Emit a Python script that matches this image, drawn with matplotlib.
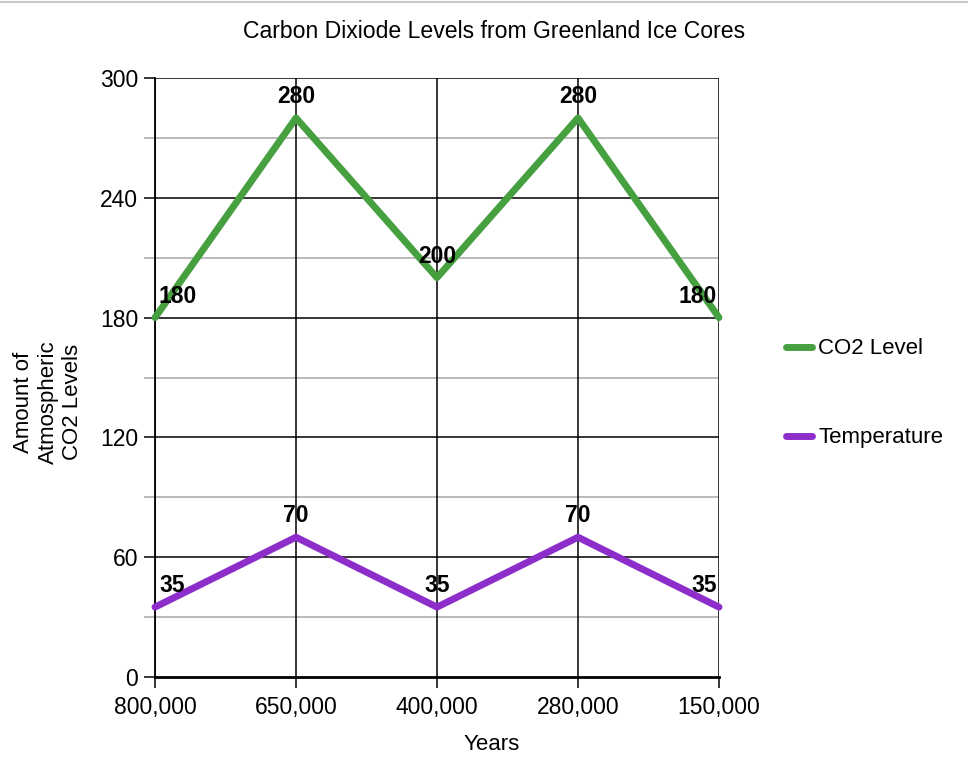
import matplotlib
matplotlib.use("Agg")
import matplotlib.pyplot as plt
from matplotlib.lines import Line2D

plt.rcParams['font.family'] = ['Liberation Sans', 'DejaVu Sans']

years = ['800,000', '650,000', '400,000', '280,000', '150,000']
co2 = [180, 280, 200, 280, 180]
temp = [35, 70, 35, 70, 35]

green = '#46a040'
purple = '#8d2ecb'

fig = plt.figure(figsize=(9.68, 7.62), dpi=100)
ax = fig.add_axes([155/968, 1-677/762, (719-155)/968, (677-78)/762])

x = list(range(len(years)))

# grid
for v in range(30, 300, 60):
    ax.axhline(v, color='#b4b4b4', lw=1.3, zorder=1)
for v in range(60, 301, 60):
    ax.axhline(v, color='black', lw=1.1, zorder=1)
for i in x:
    ax.axvline(i, color='black', lw=1.1, zorder=1)

ax.plot(x, co2, color=green, lw=5, solid_capstyle='round', zorder=3,
        clip_on=False, label='CO2 Level')
ax.plot(x, temp, color=purple, lw=5, solid_capstyle='round', zorder=3,
        clip_on=False, label='Temperature')

# data labels
for series in (co2, temp):
    for i, v in enumerate(series):
        if i == 0:
            ha, dx = 'left', 4
        elif i == len(series) - 1:
            ha, dx = 'right', -2
        else:
            ha, dx = 'center', 0
        ax.annotate(str(v), (i, v), xytext=(dx, 10), textcoords='offset pixels',
                    ha=ha, va='bottom', fontsize=16.5, fontweight='bold', zorder=4)

ax.set_xlim(0, len(years) - 1)
ax.set_ylim(0, 300)
ax.set_xticks(x)
ax.set_xticklabels(years)
ax.set_yticks(range(0, 301, 60))
ax.set_yticks(range(30, 300, 60), minor=True)
ax.tick_params(axis='both', labelsize=16.5, length=8, width=1.1, color='black', pad=4)
ax.tick_params(axis='y', which='minor', length=8, width=1.3, color='#b4b4b4')
ax.tick_params(axis='x', pad=6)

for s in ('top', 'right'):
    ax.spines[s].set_visible(False)
ax.spines['left'].set_linewidth(1.3)
ax.spines['bottom'].set_linewidth(2)

fig.text(492/968, 1-745/762, 'Years', ha='center', va='center', fontsize=16)
fig.text(48/968, 1-402/762, 'Amount of\nAtmospheric\nCO2 Levels', rotation=90,
         ha='center', va='center', multialignment='center', fontsize=16, linespacing=1.2)
fig.text(494/968, 1-32/762, 'Carbon Dixiode Levels from Greenland Ice Cores',
         ha='center', va='center', fontsize=16.6)

fig.add_artist(Line2D([0, 1], [1-2/762, 1-2/762], color='#c8c8c8', lw=1.5))

fig.legend(loc='center left', bbox_to_anchor=(786/968, 1-393/762), frameon=False,
           fontsize=16, handlelength=1.15, handleheight=0.5, handletextpad=0.3,
           labelspacing=3.05, borderpad=0, borderaxespad=0)

fig.savefig('out.png', dpi=100)
